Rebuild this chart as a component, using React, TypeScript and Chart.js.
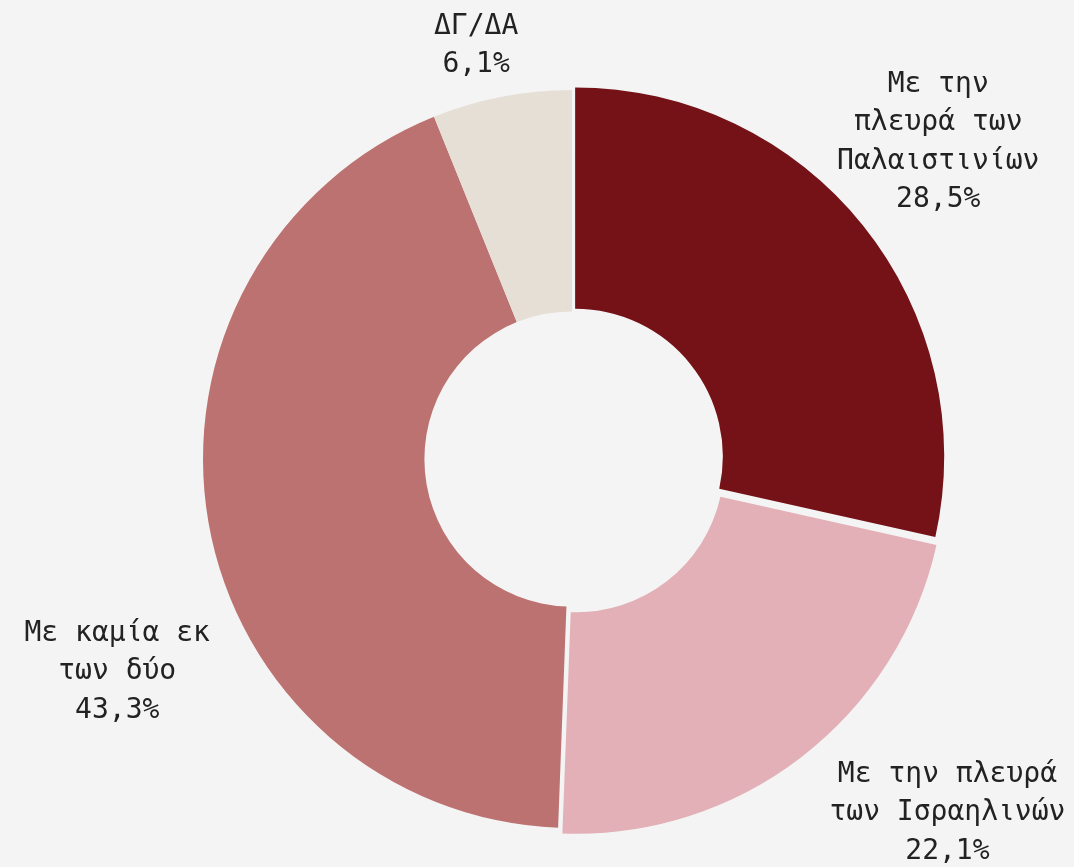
import React, { useEffect, useRef } from "react";
import { Chart, registerables } from "chart.js";

Chart.register(...registerables);

// ---- data ----
const categories: string[][] = [
  ["Με την", "πλευρά των", "Παλαιστινίων"],
  ["Με την πλευρά", "των Ισραηλινών"],
  ["Με καμία εκ", "των δύο"],
  ["ΔΓ/ΔΑ"],
];
const values: number[] = [28.5, 22.1, 43.3, 6.1];

// ---- styles ----
const colors = ["#751218", "#e2b0b6", "#bc7270", "#e6dfd6"];
const pulls = [16, 28, 0, 0];
// label placement relative to each slice: angle nudge (deg, clockwise) and distance beyond outer edge
const labelAngleNudge = [-2.4, -9.3, -14.9, -2];
const labelDistance = [117, 145, 132, 58];
const FONT_SIZE = 28;
const LINE_H = 38.5;
const CAP_H = 20;
const BG = "#f4f4f4";

const fmt = (v: number) => v.toFixed(1).replace(".", ",") + "%";

const labelPlugin = {
  id: "outsideLabels",
  afterDatasetsDraw(chart: any) {
    const ctx = chart.ctx;
    const meta = chart.getDatasetMeta(0);
    ctx.save();
    ctx.font = `${FONT_SIZE}px "DejaVu Sans Mono", monospace`;
    ctx.fillStyle = "#222222";
    ctx.textAlign = "center";
    ctx.textBaseline = "alphabetic";
    meta.data.forEach((arc: any, i: number) => {
      const p = arc.getProps(["x", "y", "startAngle", "endAngle", "outerRadius"], true);
      const mid = (p.startAngle + p.endAngle) / 2 + (labelAngleNudge[i] * Math.PI) / 180;
      const d = p.outerRadius + labelDistance[i];
      const cx = p.x + Math.cos(mid) * d;
      const cy = p.y + Math.sin(mid) * d;
      const lines = [...categories[i], fmt(values[i])];
      const n = lines.length;
      lines.forEach((line, k) => {
        const by = cy + (k - (n - 1) / 2) * LINE_H + CAP_H / 2;
        ctx.fillText(line, cx, by);
      });
    });
    ctx.restore();
  },
};

export default function App() {
  const ref = useRef<HTMLCanvasElement | null>(null);
  useEffect(() => {
    document.body.style.margin = "0";
    document.body.style.background = BG;
    if (!ref.current) return;
    const chart = new Chart(ref.current, {
      type: "doughnut",
      data: {
        labels: categories.map((c) => c.join(" ")),
        datasets: [
          {
            data: values,
            backgroundColor: colors,
            borderWidth: 0,
            offset: pulls,
            hoverOffset: 0,
          } as any,
        ],
      },
      options: {
        animation: false,
        responsive: true,
        maintainAspectRatio: false,
        cutout: "40%",
        layout: { padding: { left: 100, right: 30, top: 76, bottom: 25 } },
        plugins: {
          legend: { display: false },
          tooltip: { enabled: false },
        },
        events: [],
      } as any,
      plugins: [labelPlugin],
    });
    return () => chart.destroy();
  }, []);
  return (
    <div style={{ width: 1074, height: 867, background: BG, position: "relative" }}>
      <canvas ref={ref} />
    </div>
  );
}
